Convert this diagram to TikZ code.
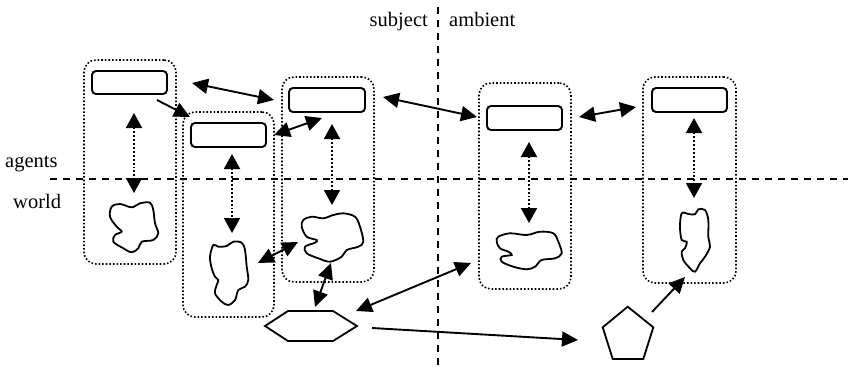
\documentclass[tikz,border=0pt]{standalone}
\usepackage{fontspec}
\setmainfont{Liberation Serif}
\usetikzlibrary{arrows.meta}
\tikzset{
  grp/.style={draw, dotted, line width=1.6pt, rounded corners=12pt, minimum width=92pt, minimum height=205pt, inner sep=0pt},
  rbox/.style={draw, line width=1.9pt, rounded corners=4pt, minimum width=75pt, minimum height=24pt, inner sep=0pt},
  blob/.style={draw, line width=1.8pt},
  shp/.style={draw, line width=1.8pt},
  dbl/.style={line width=1.9pt, {Triangle[length=16pt,width=15pt]}-{Triangle[length=16pt,width=15pt]}},
  sgl/.style={line width=1.9pt, -{Triangle[length=16pt,width=15pt]}},
  vdot/.style={line width=1.9pt, dotted, {Triangle[length=15pt,width=16pt]}-{Triangle[length=15pt,width=16pt]}},
  sep/.style={line width=2pt, dash pattern=on 7pt off 6pt},
  lbl/.style={font=\fontsize{20.5}{24}\selectfont, inner sep=0pt}
}
\begin{document}
\begin{tikzpicture}[x=1pt,y=-1pt]
\useasboundingbox (0,0) rectangle (848,367);
% separators
\coordinate (vt) at (438,7); \coordinate (vb) at (438,367);
\coordinate (hl) at (50,179); \coordinate (hr) at (848,179);
\draw[sep] (vt) -- (vb);
\draw[sep] (hl) -- (hr);
% labels
\node[lbl, anchor=base east] (subj) at (428,26) {subject};
\node[lbl, anchor=base west] (amb) at (449,26) {ambient};
\node[lbl, anchor=base west] (agt) at (5,167) {agents};
\node[lbl, anchor=base west] (wld) at (13,208) {world};
% groups
\node[grp, minimum width=92pt, minimum height=204pt] (g1) at (130,162) {};
\node[grp, minimum width=91pt, minimum height=205pt] (g2) at (228.5,214.5) {};
\node[grp, minimum width=92pt, minimum height=205pt] (g3) at (328,179.5) {};
\node[grp, minimum width=92pt, minimum height=206pt] (g4) at (525,186) {};
\node[grp, minimum width=93pt, minimum height=206pt] (g5) at (689.5,180) {};
% rectangles
\node[rbox, minimum height=23pt] (r1) at (129.5,82.5) {};
\node[rbox] (r2) at (228.5,135) {};
\node[rbox, minimum width=76pt] (r3) at (327,100) {};
\node[rbox] (r4) at (524.5,118) {};
\node[rbox] (r5) at (689.5,100) {};
% blobs
\draw[blob] plot[smooth cycle, tension=0.55] coordinates {(111.7,206.7) (120,204) (131.7,207.3) (140,203.3) (150,202.7) (153.3,210) (155,223.3) (158.3,233.3) (153.3,240) (141.7,241.7) (138.3,248.3) (131.7,252.3) (123.3,248.3) (113.3,241.7) (115,235) (121.7,231.7) (116.7,226.7) (110,216.7)};
\draw[blob] plot[smooth cycle, tension=0.55] coordinates {(213.3,245) (218.3,246.7) (226.7,246) (233.3,241.7) (241.7,242.7) (245,250) (246.7,266.7) (248.3,280) (245,286.7) (238.3,290) (235,300) (228.3,305) (221.7,301.7) (215,293.3) (216.7,285) (218.3,280) (215,276.7) (211.7,268.3) (210,256.7)};
\draw[blob] plot[smooth cycle, tension=0.55] coordinates {(303.3,220) (311.7,216.7) (323.3,218.3) (333.3,215) (343.3,213.3) (355,216.7) (360,226.7) (363.3,241.7) (358.3,246.7) (346.7,250) (341.7,256.7) (330,261.7) (318.3,258.3) (306.7,253.3) (305,246.7) (315,242.7) (316.7,240) (306.7,236.7) (301.7,226.7)};
\draw[blob] plot[smooth cycle, tension=0.55] coordinates {(498.3,236.7) (510,233.3) (526.7,235) (540,231.7) (553.3,233.3) (558.3,241.7) (561.7,253.3) (555,258.3) (541.7,260) (535,266.7) (526.7,269.3) (513.3,266.7) (501.7,261.7) (501.7,256.7) (511.7,255) (508.3,251.7) (500,248.3) (496.7,241.7)};
\draw[blob] plot[smooth cycle, tension=0.55] coordinates {(681.7,213.3) (688.3,214) (695,214.3) (698.3,209.3) (705,210) (708.3,220) (708.3,236.7) (710,246.7) (705,256.7) (700,263.3) (695,271.7) (690,268.3) (683.3,260) (681.7,251.7) (685,248.3) (686.7,241.7) (681.7,240) (680,226.7)};
% hexagon and pentagon
\draw[shp] (265,326) -- (288,311) -- (333,311) -- (357,326) -- (333,341) -- (288,341) -- cycle;
\coordinate (hex) at (311,326);
\draw[shp] (627.7,306.7) -- (653.3,327.3) -- (643.3,359) -- (612.7,359) -- (602.7,327.3) -- cycle;
\coordinate (pent) at (628,335);
% vertical dotted arrows
\coordinate (v1a) at (134,113); \coordinate (v1b) at (134,193);
\coordinate (v2a) at (232,154); \coordinate (v2b) at (232,233);
\coordinate (v3a) at (332,124); \coordinate (v3b) at (332,205);
\coordinate (v4a) at (529,142); \coordinate (v4b) at (529,223);
\coordinate (v5a) at (694,118); \coordinate (v5b) at (694,198);
\draw[vdot] (v1a) -- (v1b);
\draw[vdot] (v2a) -- (v2b);
\draw[vdot] (v3a) -- (v3b);
\draw[vdot] (v4a) -- (v4b);
\draw[vdot] (v5a) -- (v5b);
% connectors
\coordinate (c1a) at (157,100); \coordinate (c1b) at (190,117);
\draw[sgl] (c1a) -- (c1b);
\coordinate (c2a) at (192,83); \coordinate (c2b) at (274,100);
\draw[dbl] (c2a) -- (c2b);
\coordinate (c3a) at (274,135); \coordinate (c3b) at (322,118);
\draw[dbl] (c3a) -- (c3b);
\coordinate (c4a) at (383,97); \coordinate (c4b) at (477,117);
\draw[dbl] (c4a) -- (c4b);
\coordinate (c5a) at (579,117); \coordinate (c5b) at (636,107);
\draw[dbl] (c5a) -- (c5b);
\coordinate (c6a) at (258,263); \coordinate (c6b) at (298,242);
\draw[dbl] (c6a) -- (c6b);
\coordinate (c7a) at (331,263); \coordinate (c7b) at (315,307);
\draw[dbl] (c7a) -- (c7b);
\coordinate (c8a) at (356,311); \coordinate (c8b) at (471,263);
\draw[dbl] (c8a) -- (c8b);
\coordinate (c9a) at (372,328); \coordinate (c9b) at (578,340);
\draw[sgl] (c9a) -- (c9b);
\coordinate (c10a) at (652,312); \coordinate (c10b) at (685,277);
\draw[sgl] (c10a) -- (c10b);
\end{tikzpicture}
\end{document}
